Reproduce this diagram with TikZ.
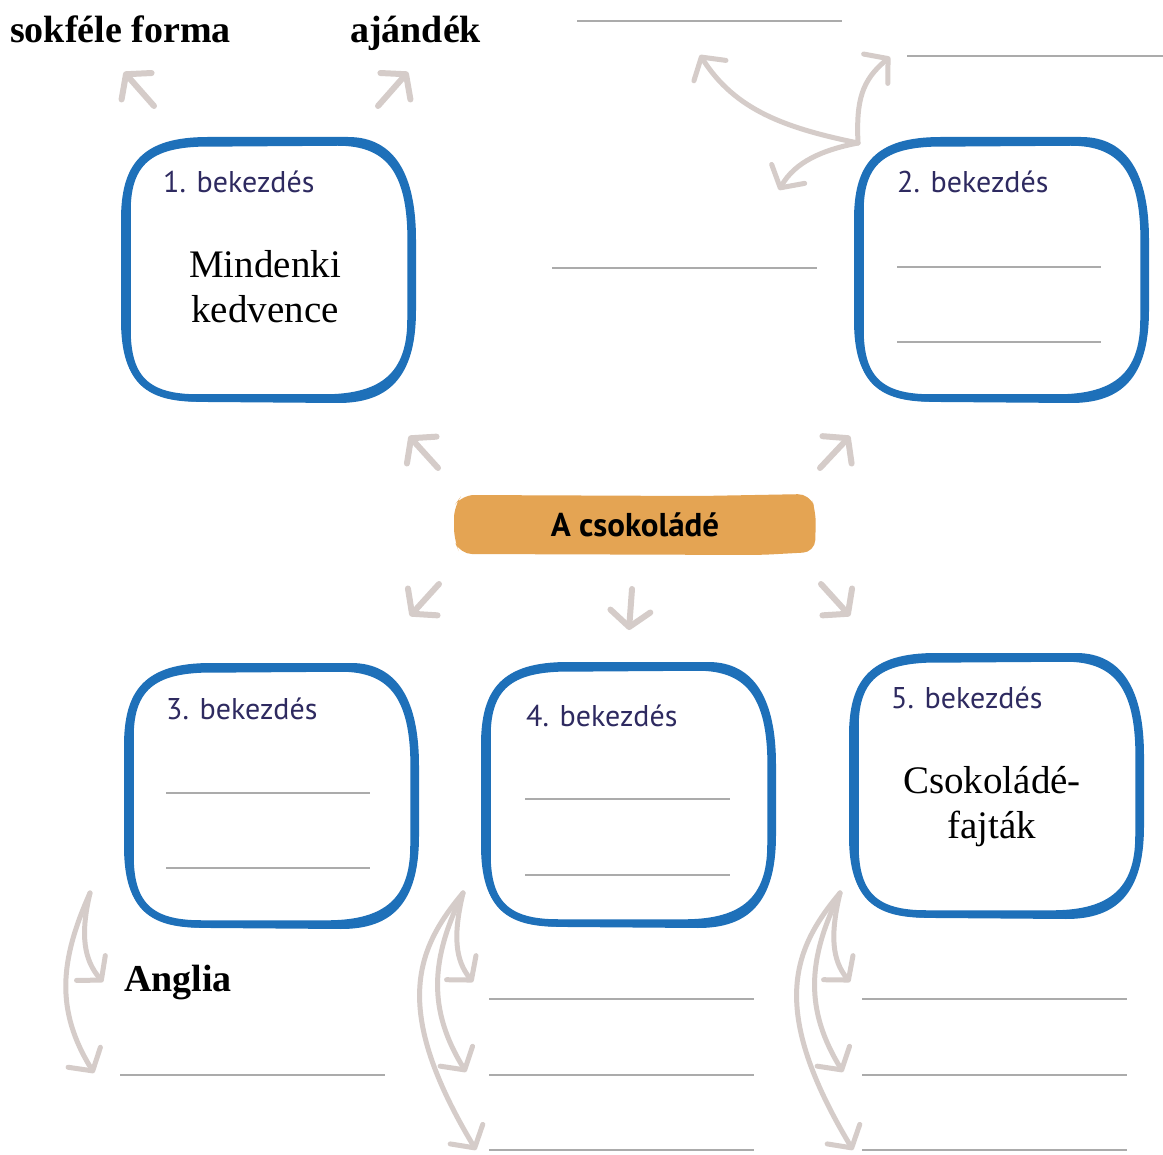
\documentclass[tikz,border=0pt]{standalone}
\usepackage{fontspec}
\setmainfont{Liberation Serif}
\newfontfamily\labelsans{PT Sans}
\usetikzlibrary{arrows.meta}
\definecolor{blobblue}{HTML}{1E70B9}
\definecolor{arrowc}{HTML}{D5CCC9}
\definecolor{lineg}{HTML}{ABABAB}
\definecolor{labcol}{HTML}{2E2A60}
\definecolor{orangebox}{HTML}{E4A453}
\tikzset{
  blob/.pic={
    \draw[blobblue, line width=7.5pt]
      (-141,-60) .. controls (-141,-110) and (-115,-125) .. (-70,-127)
      -- (70,-128) .. controls (120,-128) and (141,-100) .. (143,-40)
      -- (143,50) .. controls (143,105) and (115,127) .. (60,128)
      -- (-70,128) .. controls (-120,128) and (-141,110) .. (-141,60) -- cycle;
    \draw[blobblue, line width=4pt]
      (-145,-50) .. controls (-145,-105) and (-125,-131) .. (-60,-131)
      -- (80,-131) .. controls (125,-131) and (146,-95) .. (146,-30)
      -- (146,40) .. controls (146,108) and (118,131) .. (70,131)
      -- (-60,130) .. controls (-118,130) and (-145,115) .. (-145,50) -- cycle;
  },
  boxnode/.style={minimum width=290pt, minimum height=262pt, inner sep=0pt},
  parlabel/.style={anchor=base west, inner sep=0pt, text=labcol,
    font=\labelsans\fontsize{30}{34}\selectfont},
  serifbold/.style={anchor=base west, inner sep=0pt,
    font=\bfseries\fontsize{38}{44}\selectfont},
  serifreg/.style={anchor=base, inner sep=0pt, align=center,
    font=\fontsize{39}{45}\selectfont},
  blank/.style={draw=lineg, line width=1.4pt},
  arr/.style={draw=arrowc, line width=6pt, line cap=round,
    -{Straight Barb[length=16pt, width=40pt, line cap=round, line join=round]}},
  sarr/.style={draw=arrowc, line width=5pt, line cap=round,
    -{Straight Barb[length=16pt, width=38pt, line cap=round, line join=round]}},
}
\begin{document}
\begin{tikzpicture}[x=1pt,y=-1pt]
\useasboundingbox (0,0) rectangle (1163,1155);
\fill[white] (0,0) rectangle (1163,1155);

% ---------- boxes ----------
\node[boxnode] (box1) at (268,270) {};
\node[boxnode] (box2) at (1001,270) {};
\node[boxnode] (box3) at (271,796) {};
\node[boxnode] (box4) at (628,795) {};
\node[boxnode] (box5) at (996,786) {};
\pic at (box1) {blob};
\pic at (box2) {blob};
\pic at (box3) {blob};
\pic at (box4) {blob};
\pic at (box5) {blob};

\node[parlabel] (l1) at (163,193) {1. bekezdés};
\node[parlabel] (l2) at (897,193) {2. bekezdés};
\node[parlabel] (l3) at (166,719) {3. bekezdés};
\node[parlabel] (l4) at (526,726) {4. bekezdés};
\node[parlabel] (l5) at (891,708) {5. bekezdés};

\node[serifreg] (t1a) at (265,278) {Mindenki};
\node[serifreg] (t1b) at (265,323) {kedvence};
\node[serifreg] (t5a) at (992,793) {Csokoládé-};
\node[serifreg] (t5b) at (992,838) {fajták};

% lines inside boxes
\draw[blank] (897,267) -- (1101,267);
\draw[blank] (897,342) -- (1101,342);
\draw[blank] (166,793) -- (370,793);
\draw[blank] (166,868) -- (370,868);
\draw[blank] (525,799) -- (730,799);
\draw[blank] (525,875) -- (730,875);

% ---------- centre ----------
\fill[orangebox, rounded corners=12pt]
  (454,506) -- (462,495) -- (700,496) -- (810,494) -- (816,512)
  -- (815,552) -- (760,555) -- (460,554) -- (454,540) -- cycle;
\node[anchor=base, inner sep=0pt, font=\labelsans\bfseries\fontsize{33}{38}\selectfont]
  (title) at (635,537) {A csokoládé};

% ---------- free labels ----------
\node[serifbold] (w1) at (10,43) {sokféle forma};
\node[serifbold] (w2) at (350,43) {ajándék};
\node[serifbold] (w3) at (124,991) {Anglia};

% blank answer lines
\draw[blank] (577,21) -- (842,21);
\draw[blank] (907,56) -- (1163,56);
\draw[blank] (552,268) -- (817,268);
\draw[blank] (120,1075) -- (385,1075);
\draw[blank] (489,999) -- (754,999);
\draw[blank] (489,1075) -- (754,1075);
\draw[blank] (489,1150) -- (754,1150);
\draw[blank] (862,999) -- (1127,999);
\draw[blank] (862,1075) -- (1127,1075);
\draw[blank] (862,1150) -- (1127,1150);

% ---------- short straight arrows ----------
\coordinate (a1s) at (154,106); \coordinate (a1e) at (124,72);
\coordinate (a2s) at (378,106); \coordinate (a2e) at (408,72);
\coordinate (c1s) at (438,468); \coordinate (c1e) at (409,436);
\coordinate (c2s) at (820,468); \coordinate (c2e) at (850,436);
\coordinate (c3s) at (439,584); \coordinate (c3e) at (410,616);
\coordinate (c4s) at (632,589); \coordinate (c4e) at (629,630);
\coordinate (c5s) at (821,584); \coordinate (c5e) at (850,616);
\draw[arr] (a1s) -- (a1e);
\draw[arr] (a2s) -- (a2e);
\draw[arr] (c1s) -- (c1e);
\draw[arr] (c2s) -- (c2e);
\draw[arr] (c3s) -- (c3e);
\draw[arr] (c4s) -- (c4e);
\draw[arr] (c5s) -- (c5e);

% ---------- top-right cluster ----------
\coordinate (hub) at (858,143);
\coordinate (hul) at (700,55);
\coordinate (hur) at (890,57);
\coordinate (hll) at (779,190);
\draw[sarr] (hub) .. controls (785,128) and (735,110) .. (hul);
\draw[sarr] (hub) .. controls (856,100) and (862,80) .. (hur);
\draw[sarr] (hub) .. controls (822,150) and (795,162) .. (hll);

% ---------- bottom clusters ----------
\coordinate (s1) at (90,893);
\coordinate (s1a) at (103,982);
\coordinate (s1b) at (94,1073);
\draw[sarr] (s1) .. controls (80,935) and (84,960) .. (s1a);
\draw[sarr] (s1) .. controls (60,960) and (55,1010) .. (s1b);

\coordinate (s2) at (463,893);
\coordinate (s2a) at (473,982);
\coordinate (s2b) at (466,1072);
\coordinate (s2c) at (476,1150);
\draw[sarr] (s2) .. controls (453,935) and (455,960) .. (s2a);
\draw[sarr] (s2) .. controls (430,960) and (428,1010) .. (s2b);
\draw[sarr] (s2) .. controls (415,950) and (392,1010) .. (s2c);

\coordinate (s3) at (840,893);
\coordinate (s3a) at (850,982);
\coordinate (s3b) at (843,1072);
\coordinate (s3c) at (853,1150);
\draw[sarr] (s3) .. controls (830,935) and (832,960) .. (s3a);
\draw[sarr] (s3) .. controls (807,960) and (805,1010) .. (s3b);
\draw[sarr] (s3) .. controls (792,950) and (769,1010) .. (s3c);
\end{tikzpicture}
\end{document}
